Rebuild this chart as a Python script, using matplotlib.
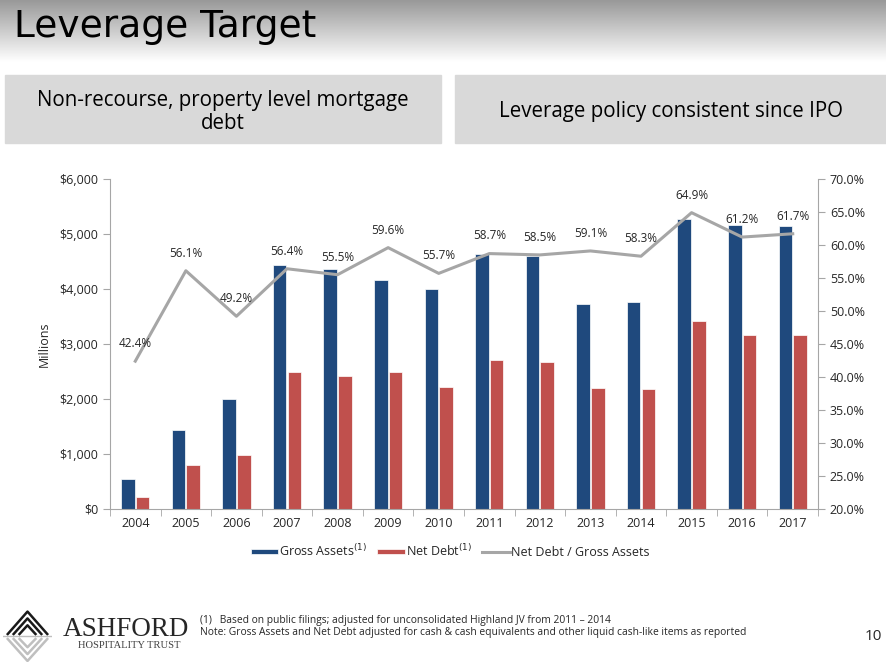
import numpy as np
import matplotlib
matplotlib.use("Agg")
import matplotlib.pyplot as plt
from matplotlib.patches import Rectangle
from matplotlib.ticker import FuncFormatter, MultipleLocator

plt.rcParams["font.family"] = ["Open Sans", "DejaVu Sans"]

years = ["2004", "2005", "2006", "2007", "2008", "2009", "2010",
         "2011", "2012", "2013", "2014", "2015", "2016", "2017"]
gross_assets = [545, 1436, 2000, 4430, 4370, 4164, 4006,
                4630, 4594, 3727, 3764, 5267, 5170, 5145]
net_debt = [224, 800, 982, 2491, 2424, 2485, 2224,
            2715, 2673, 2200, 2188, 3412, 3158, 3170]
ratio = [42.4, 56.1, 49.2, 56.4, 55.5, 59.6, 55.7,
         58.7, 58.5, 59.1, 58.3, 64.9, 61.2, 61.7]

BLUE = "#1F497D"
RED = "#C0504D"
GRAY = "#A6A6A6"
TXT = "#262626"

W, H = 887, 664
fig = plt.figure(figsize=(W / 100, H / 100), dpi=100)


def fx(px):
    return px / W


def fy(py):
    return 1 - py / H


# header gradient
bg = fig.add_axes([0, fy(62), 1, 62 / H])
grad = np.linspace(0.6, 1.0, 100).reshape(-1, 1)
bg.imshow(np.dstack([grad, grad, grad]), aspect="auto", extent=[0, 1, 0, 1])
bg.axis("off")

fig.text(fx(14), fy(27), "Leverage Target", fontsize=27, color="black",
         va="center", ha="left", family=["DejaVu Sans"])

# grey boxes
fig.patches.append(Rectangle((fx(5), fy(143)), fx(441) - fx(5), (143 - 75) / H,
                             transform=fig.transFigure, color="#D9D9D9", zorder=0))
fig.patches.append(Rectangle((fx(455), fy(143)), fx(887) - fx(455), (143 - 75) / H,
                             transform=fig.transFigure, color="#D9D9D9", zorder=0))
fig.text(fx(223), fy(112), "Non-recourse, property level mortgage\ndebt",
         ha="center", va="center", fontsize=14.8, color="black", linespacing=1.1)
fig.text(fx(671), fy(112), "Leverage policy consistent since IPO",
         ha="center", va="center", fontsize=14.8, color="black")

# main chart
ax = fig.add_axes([fx(110), fy(509), fx(818) - fx(110), (509 - 179) / H])
x = np.arange(len(years))
bw = 0.27
ax.bar(x - bw / 2 - 0.01, gross_assets, width=bw, color=BLUE, edgecolor="white",
       linewidth=0.5, label="Gross Assets$^{(1)}$", zorder=2)
ax.bar(x + bw / 2 + 0.01, net_debt, width=bw, color=RED, edgecolor="white",
       linewidth=0.5, label="Net Debt$^{(1)}$", zorder=2)
ax.set_xlim(-0.5, len(years) - 0.5)
ax.set_ylim(0, 6000)
ax.yaxis.set_major_locator(MultipleLocator(1000))
ax.yaxis.set_major_formatter(FuncFormatter(lambda v, p: f"${v:,.0f}"))
ax.set_xticks(x)
ax.set_xticklabels(years)
ax.set_xticks(np.arange(-0.5, len(years), 1), minor=True)
ax.tick_params(axis="x", which="major", length=0, labelsize=9, colors=TXT, pad=6)
ax.tick_params(axis="x", which="minor", length=5, color=GRAY, direction="out")
ax.tick_params(axis="y", length=5, color=GRAY, labelsize=9, colors=TXT)
ax.set_ylabel("Millions", fontsize=9, color=TXT, labelpad=6)
for s in ["top", "right"]:
    ax.spines[s].set_visible(False)
for s in ["left", "bottom"]:
    ax.spines[s].set_color(GRAY)

ax2 = ax.twinx()
ax2.plot(x, ratio, color=GRAY, linewidth=2.2, label="Net Debt / Gross Assets", zorder=3)
ax2.set_ylim(20, 70)
ax2.yaxis.set_major_locator(MultipleLocator(5))
ax2.yaxis.set_major_formatter(FuncFormatter(lambda v, p: f"{v:.1f}%"))
ax2.tick_params(axis="y", length=5, color=GRAY, labelsize=9, colors=TXT)
for s in ["top", "left", "bottom"]:
    ax2.spines[s].set_visible(False)
ax2.spines["right"].set_color(GRAY)
for xi, r in zip(x, ratio):
    ax2.annotate(f"{r:.1f}%", (xi, r), xytext=(0, 8), textcoords="offset points",
                 ha="center", va="bottom", fontsize=8.5, color=TXT)

h1, l1 = ax.get_legend_handles_labels()
h2, l2 = ax2.get_legend_handles_labels()
leg = fig.legend(h1 + h2, l1 + l2, loc="center", bbox_to_anchor=(fx(450), fy(551)),
                 ncol=3, frameon=False, fontsize=9, handlelength=2.2,
                 handleheight=0.35, handletextpad=0.1, columnspacing=0.8)
for t in leg.get_texts():
    t.set_color(TXT)

# footer: logo
lg = fig.add_axes([fx(3), fy(662), fx(52) - fx(3), (662 - 610) / H])
lg.set_xlim(0, 1)
lg.set_ylim(0, 1)
lg.axis("off")
for k in range(3):
    off = k * 0.12
    lg.plot([0.08 + off, 0.5, 0.92 - off], [0.52, 0.97 - off * 1.1, 0.52],
            color="#1a1a1a", linewidth=1.8, solid_capstyle="butt")
lg.plot([0.0, 1.0], [0.5, 0.5], color="#BFBFBF", linewidth=1.0)
for k in range(3):
    off = k * 0.12
    lg.plot([0.08 + off, 0.5, 0.92 - off], [0.46, 0.02 + off * 1.1, 0.46],
            color="#BFBFBF", linewidth=1.8, solid_capstyle="butt")

fig.text(fx(63), fy(629), "ASHFORD", fontsize=19.5, family=["Liberation Serif"],
         color="#262626", ha="left", va="center")
fig.text(fx(78), fy(646), "HOSPITALITY TRUST", fontsize=7.6, family=["Liberation Serif"],
         color="#404040", ha="left", va="center")

fig.text(fx(200), fy(621), "(1)   Based on public filings; adjusted for unconsolidated Highland JV from 2011 \u2013 2014",
         fontsize=7.4, color=TXT, ha="left", va="center")
fig.text(fx(200), fy(633), "Note: Gross Assets and Net Debt adjusted for cash & cash equivalents and other liquid cash-like items as reported",
         fontsize=7.4, color=TXT, ha="left", va="center")
fig.text(fx(873), fy(636), "10", fontsize=11, color=TXT, ha="center", va="center")

fig.savefig("out.png", dpi=100)
